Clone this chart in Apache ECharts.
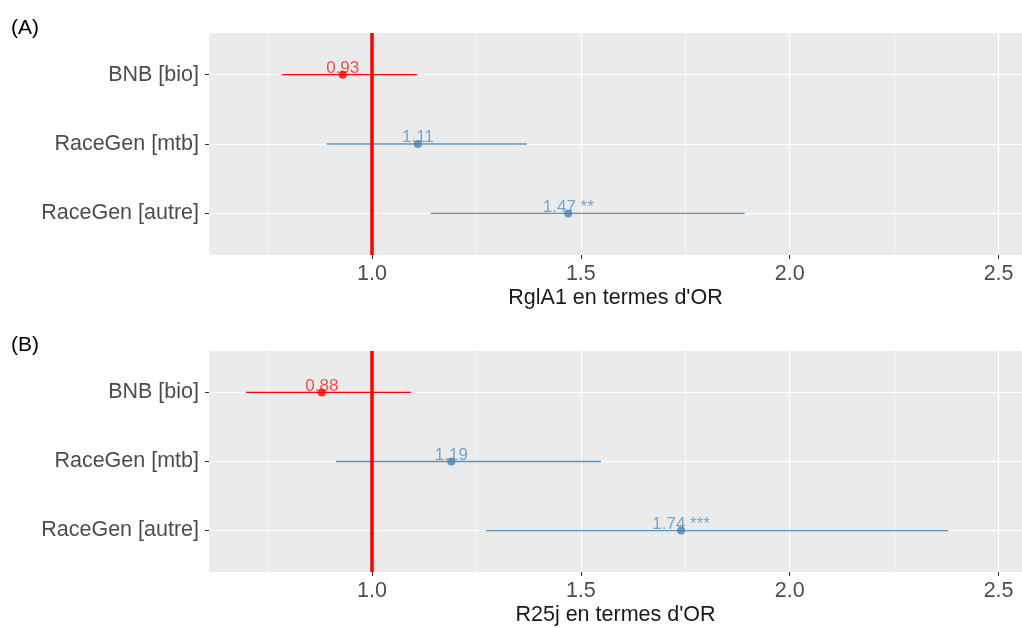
<!DOCTYPE html>
<html>
<head>
<meta charset="utf-8">
<script src="https://cdn.jsdelivr.net/npm/echarts@6/dist/echarts.min.js"></script>
<style>
  html, body { margin: 0; padding: 0; background: #ffffff; }
  #chart { width: 1022px; height: 628px; }
</style>
</head>
<body>
<div id="chart"></div>
<script>
// Predictors, listed top to bottom
const categories = ['BNB [bio]', 'RaceGen [mtb]', 'RaceGen [autre]'];

// Panel A: RglA1 odds ratios with 95% CI
const orA = [0.93, 1.11, 1.47];
const loA = [0.785, 0.892, 1.141];
const hiA = [1.108, 1.371, 1.892];
const starsA = ['', '', '**'];

// Panel B: R25j odds ratios with 95% CI
const orB = [0.88, 1.19, 1.74];
const loB = [0.699, 0.914, 1.273];
const hiB = [1.093, 1.548, 2.380];
const starsB = ['', '', '***'];

const xTicks = [1.0, 1.5, 2.0, 2.5];
const xMinor = [0.75, 1.25, 1.75, 2.25];
const panelTitles = ['(A)', '(B)'];
const axisTitles = ["RglA1 en termes d'OR", "R25j en termes d'OR"];

const FONT = '"Liberation Sans", Arial, sans-serif';
const RED = '#FF0000';
const BLUE = '#4682B4';
const colorOf = i => (i === 0 ? RED : BLUE);
const barColorOf = i => (i === 0 ? RED : 'rgba(70,130,180,0.85)');
const labelColorOf = i => (i === 0 ? 'rgba(255,0,0,0.85)' : 'rgba(70,130,180,0.85)');

const grids = [
  { left: 209, right: 0, top: 33, height: 222, backgroundColor: '#EBEBEB', show: true, borderWidth: 0 },
  { left: 209, right: 0, top: 351, height: 221, backgroundColor: '#EBEBEB', show: true, borderWidth: 0 }
];

function xAxisFor(k) {
  return {
    type: 'value', gridIndex: k, min: 0.61, max: 2.556,
    axisLine: { show: false },
    splitLine: { show: false },
    axisTick: { show: true, customValues: xTicks, length: 4, lineStyle: { color: '#333333', width: 1 } },
    axisLabel: {
      customValues: xTicks, formatter: v => v.toFixed(1),
      color: '#4D4D4D', fontSize: 21.5, fontFamily: FONT, margin: 8
    },
    name: axisTitles[k], nameLocation: 'middle', nameGap: 32.5,
    nameTextStyle: { color: '#1A1A1A', fontSize: 21.5, fontFamily: FONT }
  };
}

function yAxisFor(k) {
  return {
    type: 'value', gridIndex: k, min: 0.4, max: 3.6, inverse: true,
    axisLine: { show: false },
    splitLine: { show: false },
    axisTick: { show: true, customValues: [1, 2, 3], length: 4, lineStyle: { color: '#333333', width: 1 } },
    axisLabel: {
      customValues: [1, 2, 3], formatter: v => categories[Math.round(v) - 1] || '',
      color: '#4D4D4D', fontSize: 21.5, fontFamily: FONT, margin: 10
    }
  };
}

function gridLineSeries(k) {
  const data = [];
  xTicks.forEach(v => data.push({ xAxis: v, lineStyle: { width: 1.1 } }));
  xMinor.forEach(v => data.push({ xAxis: v, lineStyle: { width: 0.55 } }));
  [1, 2, 3].forEach(v => data.push({ yAxis: v, lineStyle: { width: 1.1 } }));
  return {
    type: 'line', xAxisIndex: k, yAxisIndex: k, data: [], silent: true, z: 1,
    markLine: {
      z: 1, silent: true, symbol: 'none', animation: false,
      label: { show: false },
      lineStyle: { color: '#FFFFFF', type: 'solid' },
      data: data
    }
  };
}

function errorBarSeries(k, lo, hi) {
  return {
    type: 'custom', xAxisIndex: k, yAxisIndex: k, z: 3, silent: true,
    data: lo.map((l, i) => [l, hi[i], i + 1]),
    renderItem: (params, api) => {
      const i = params.dataIndex;
      const y = api.value(2);
      const p1 = api.coord([api.value(0), y]);
      const p2 = api.coord([api.value(1), y]);
      return {
        type: 'line',
        shape: { x1: p1[0], y1: p1[1], x2: p2[0], y2: p2[1] },
        style: { stroke: barColorOf(i), lineWidth: 1.3, fill: null }
      };
    }
  };
}

function refLineSeries(k) {
  return {
    type: 'line', xAxisIndex: k, yAxisIndex: k, data: [], silent: true, z: 4,
    markLine: {
      z: 4, silent: true, symbol: 'none', animation: false,
      label: { show: false },
      lineStyle: { color: RED, width: 3.5, type: 'solid' },
      data: [{ xAxis: 1 }]
    }
  };
}

function pointSeries(k, or, stars) {
  return {
    type: 'scatter', xAxisIndex: k, yAxisIndex: k, z: 5, symbolSize: 8,
    data: or.map((v, i) => ({
      value: [v, i + 1],
      itemStyle: { color: colorOf(i) },
      label: {
        show: true, position: 'top', distance: -6,
        formatter: v.toFixed(2) + (stars[i] ? ' ' + stars[i] : ''),
        color: labelColorOf(i), fontSize: 17, fontFamily: FONT
      }
    }))
  };
}

const chart = echarts.init(document.getElementById('chart'), null, { renderer: 'canvas' });
chart.setOption({
  animation: false,
  backgroundColor: '#FFFFFF',
  title: [
    { text: panelTitles[0], left: 6, top: 13, textStyle: { color: '#000000', fontSize: 21, fontWeight: 'normal', fontFamily: FONT } },
    { text: panelTitles[1], left: 6, top: 330, textStyle: { color: '#000000', fontSize: 21, fontWeight: 'normal', fontFamily: FONT } }
  ],
  grid: grids,
  xAxis: [xAxisFor(0), xAxisFor(1)],
  yAxis: [yAxisFor(0), yAxisFor(1)],
  series: [
    gridLineSeries(0), gridLineSeries(1),
    errorBarSeries(0, loA, hiA), errorBarSeries(1, loB, hiB),
    refLineSeries(0), refLineSeries(1),
    pointSeries(0, orA, starsA), pointSeries(1, orB, starsB)
  ]
});
</script>
</body>
</html>
